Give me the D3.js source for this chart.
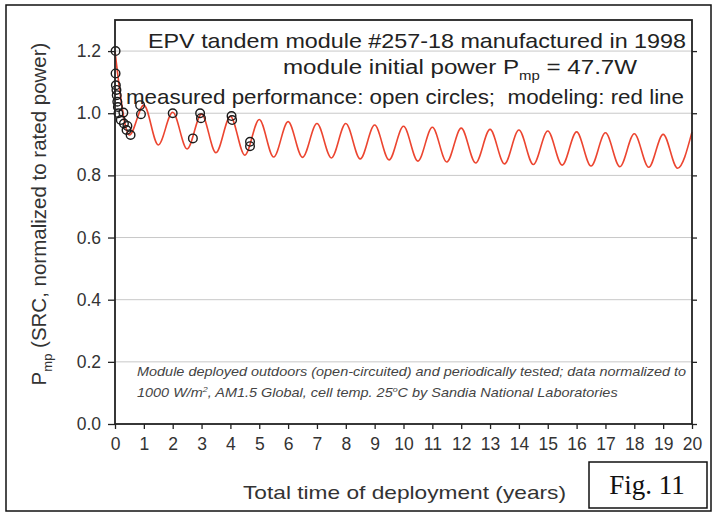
<!DOCTYPE html>
<html>
<head>
<meta charset="utf-8">
<script src="https://cdn.jsdelivr.net/npm/d3@7"></script>
<style>
  body { margin: 0; background: #fff; }
  svg { display: block; font-family: "Liberation Sans", Arial, sans-serif; }
</style>
</head>
<body>
<script>

var years = [0, 0.5, 1, 1.5, 2, 2.5, 3, 3.5, 4, 4.5, 5, 5.5, 6, 6.5, 7, 7.5, 8, 8.5, 9, 9.5,
             10, 10.5, 11, 11.5, 12, 12.5, 13, 13.5, 14, 14.5, 15, 15.5, 16, 16.5, 17, 17.5,
             18, 18.5, 19, 19.5, 20];
var model = [1.20, 0.930, 1.026, 0.898, 1.003, 0.885, 0.997, 0.873, 0.990, 0.865, 0.980, 0.859,
             0.973, 0.858, 0.967, 0.856, 0.967, 0.853, 0.962, 0.850, 0.958, 0.846, 0.955, 0.843,
             0.952, 0.840, 0.948, 0.837, 0.946, 0.835, 0.943, 0.833, 0.940, 0.830, 0.937, 0.828,
             0.934, 0.826, 0.932, 0.823, 0.940];

var measYears = [0.02, 0.02, 0.03, 0.05, 0.06, 0.08, 0.1, 0.12, 0.2, 0.29, 0.31, 0.4, 0.43, 0.54,
                 0.87, 0.9, 2.0, 2.7, 2.95, 2.98, 4.04, 4.06, 4.68, 4.68];
var measPower = [1.20, 1.128, 1.09, 1.075, 1.058, 1.037, 1.02, 1.00, 0.978, 1.002, 0.967, 0.946, 0.959, 0.930,
                 1.026, 0.997, 1.00, 0.919, 1.00, 0.984, 0.991, 0.978, 0.908, 0.894];

var xTicks = d3.range(0, 21, 1);
var yTicks = [0, 0.2, 0.4, 0.6, 0.8, 1.0, 1.2];

var width = 717,
    height = 517;

var svg = d3.select("body").append("svg")
    .attr("width", width)
    .attr("height", height);

var x = d3.scaleLinear().domain([0, 20]).range([115, 692]);
var y = d3.scaleLinear().domain([0, 1.3]).range([424, 20]);

// outer frame of the figure
svg.append("rect")
    .attr("x", 6).attr("y", 5)
    .attr("width", 705).attr("height", 506)
    .attr("fill", "none")
    .attr("stroke", "#111")
    .attr("stroke-width", 1.5);

// grid
svg.append("g")
  .selectAll("line")
    .data(yTicks.filter(function(d) { return d > 0; }))
  .enter().append("line")
    .attr("x1", x(0)).attr("x2", x(20))
    .attr("y1", function(d) { return y(d); })
    .attr("y2", function(d) { return y(d); })
    .attr("stroke", "#c8c8c8")
    .attr("stroke-width", 1);

// footnote
var note = svg.append("text")
    .attr("transform", "translate(137,0) scale(1.112,1)")
    .attr("font-size", 13)
    .attr("font-style", "italic")
    .attr("fill", "#444");
note.append("tspan")
    .attr("x", 0).attr("y", 376)
    .text("Module deployed outdoors (open-circuited) and periodically tested; data normalized to");
var l2 = note.append("tspan")
    .attr("x", 0).attr("y", 397);
l2.append("tspan").text("1000 W/m");
l2.append("tspan").attr("dy", -5).attr("font-size", 8).text("2");
l2.append("tspan").attr("dy", 5).text(", AM1.5 Global, cell temp. 25");
l2.append("tspan").attr("dy", -5).attr("font-size", 8).text("o");
l2.append("tspan").attr("dy", 5).text("C by Sandia National Laboratories");

// model line
var line = d3.line()
    .x(function(d, i) { return x(years[i]); })
    .y(function(d) { return y(d); })
    .curve(d3.curveMonotoneX);

svg.append("path")
    .datum(model)
    .attr("d", line)
    .attr("fill", "none")
    .attr("stroke", "#ec4530")
    .attr("stroke-width", 1.6);

// measured points
svg.append("g")
  .selectAll("circle")
    .data(measPower)
  .enter().append("circle")
    .attr("cx", function(d, i) { return x(measYears[i]); })
    .attr("cy", function(d) { return y(d); })
    .attr("r", 4.3)
    .attr("fill", "none")
    .attr("stroke", "#1a1a1a")
    .attr("stroke-width", 1.4);

// axes
var ax = svg.append("g")
    .attr("transform", "translate(0," + y(0) + ")")
    .call(d3.axisBottom(x).tickValues(xTicks).tickSize(5).tickPadding(9).tickFormat(d3.format("d")));
var ay = svg.append("g")
    .attr("transform", "translate(" + x(0) + ",0)")
    .call(d3.axisLeft(y).tickValues(yTicks).tickSize(7).tickPadding(7).tickFormat(d3.format(".1f")));
var ayr = svg.append("g")
    .attr("transform", "translate(" + x(20) + ",0)")
    .call(d3.axisRight(y).tickValues(yTicks).tickSize(5).tickFormat(""));

[ax, ay, ayr].forEach(function(g) {
  g.select(".domain").remove();
  g.selectAll("line").attr("stroke", "#222").attr("stroke-width", 1.3);
  g.selectAll("text")
      .attr("font-family", "'Liberation Sans', Arial, sans-serif")
      .attr("font-size", 17.5)
      .attr("fill", "#333");
});

svg.append("rect")
    .attr("x", x(0)).attr("y", y(1.3))
    .attr("width", x(20) - x(0))
    .attr("height", y(0) - y(1.3))
    .attr("fill", "none")
    .attr("stroke", "#222")
    .attr("stroke-width", 1.8);

// heading
svg.append("text")
    .attr("x", 148).attr("y", 48)
    .attr("font-size", 21)
    .attr("fill", "#222")
    .attr("textLength", 538)
    .attr("lengthAdjust", "spacingAndGlyphs")
    .text("EPV tandem module #257-18 manufactured in 1998");

var h2 = svg.append("text")
    .attr("transform", "translate(283,74) scale(1.15,1)")
    .attr("font-size", 21)
    .attr("fill", "#222");
h2.append("tspan").text("module initial power P");
h2.append("tspan").attr("dy", 6).attr("font-size", 13).text("mp");
h2.append("tspan").attr("dy", -6).text(" = 47.7W");

svg.append("text")
    .attr("x", 126).attr("y", 104)
    .attr("font-size", 21)
    .attr("fill", "#222")
    .attr("xml:space", "preserve")
    .attr("textLength", 558)
    .attr("lengthAdjust", "spacingAndGlyphs")
    .text("measured performance: open circles;  modeling: red line");

// axis titles
svg.append("text")
    .attr("x", 243).attr("y", 499)
    .attr("font-size", 19)
    .attr("fill", "#333")
    .attr("textLength", 323)
    .attr("lengthAdjust", "spacingAndGlyphs")
    .text("Total time of deployment (years)");

var yt = svg.append("text")
    .attr("transform", "translate(46,214) rotate(-90)")
    .attr("text-anchor", "middle")
    .attr("font-size", 20.5)
    .attr("fill", "#333");
yt.append("tspan").text("P");
yt.append("tspan").attr("dy", 6).attr("font-size", 13).text("mp");
yt.append("tspan").attr("dy", -6).text(" (SRC, normalized to rated power)");

// figure tag
svg.append("rect")
    .attr("x", 589).attr("y", 462)
    .attr("width", 118).attr("height", 46)
    .attr("fill", "#fff")
    .attr("stroke", "#111")
    .attr("stroke-width", 1.5);
svg.append("text")
    .attr("x", 647).attr("y", 494)
    .attr("text-anchor", "middle")
    .attr("font-family", "'Liberation Serif', 'Times New Roman', serif")
    .attr("font-size", 27)
    .attr("fill", "#111")
    .text("Fig. 11");

</script>
</body>
</html>
